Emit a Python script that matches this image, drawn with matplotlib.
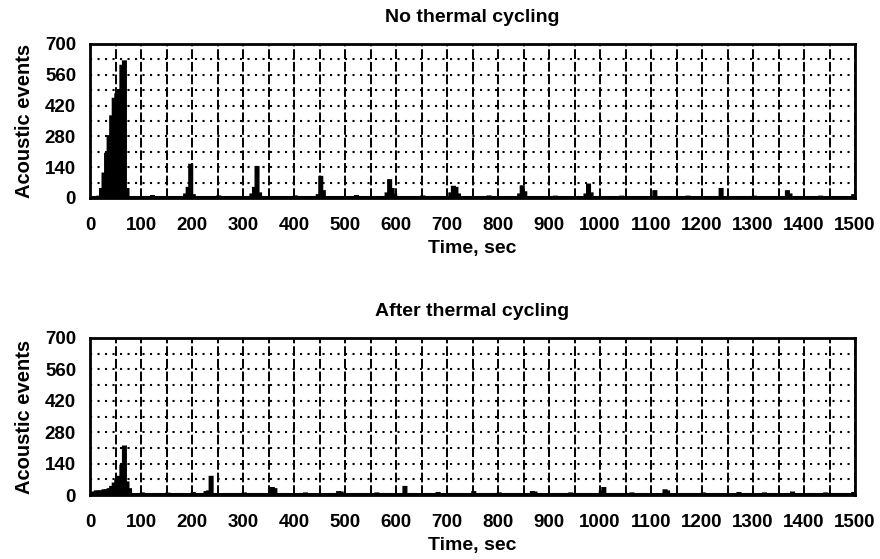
import matplotlib
matplotlib.use("Agg")
import matplotlib.pyplot as plt
from matplotlib.ticker import MultipleLocator

plt.rcParams['font.family'] = ['Liberation Sans', 'DejaVu Sans']
plt.rcParams['font.weight'] = 'bold'

# 5-second bins (left edges) and event counts
top_times = [15, 20, 25, 30, 35, 40, 45, 50, 55, 60, 65, 70,
             120, 185, 190, 195, 200, 250, 315, 320, 325, 330, 400,
             445, 450, 455, 520, 580, 585, 590, 595, 650,
             705, 710, 715, 720, 780, 840, 845, 850, 910,
             970, 975, 980, 1040, 1105, 1170, 1235, 1300, 1365, 1370, 1430, 1495]
top_counts = [5, 40, 110, 200, 280, 370, 450, 470, 490, 600, 620, 40,
              8, 15, 45, 150, 12, 6, 15, 45, 140, 20, 6,
              12, 95, 30, 8, 20, 80, 40, 15, 6,
              20, 50, 45, 15, 6, 15, 52, 25, 5,
              15, 60, 20, 5, 30, 5, 40, 5, 30, 15, 5, 12]

bot_times = [0, 5, 10, 15, 20, 25, 30, 35, 40, 45, 50, 55, 60, 65, 70, 75,
             100, 150, 200, 225, 230, 235, 300, 355, 360, 420, 485, 490,
             560, 615, 680, 750, 800, 865, 870, 940, 1000, 1005, 1060,
             1125, 1130, 1200, 1270, 1320, 1375, 1440, 1495]
bot_counts = [8, 10, 15, 15, 15, 20, 20, 25, 35, 50, 65, 80, 130, 215, 55, 25,
              6, 5, 8, 12, 15, 80, 6, 30, 25, 6, 12, 10,
              6, 35, 8, 12, 6, 12, 10, 6, 15, 30, 6,
              20, 15, 6, 8, 6, 10, 6, 8]

titles = ["No thermal cycling", "After thermal cycling"]
xlabel = "Time, sec"
ylabel = "Acoustic events"
xticks = list(range(0, 1501, 100))
yticks = list(range(0, 701, 140))

fig = plt.figure(figsize=(8.8, 5.59), dpi=100)
L, W = 90/880, 765/880
ax1 = fig.add_axes([L, 1-198/559, W, 154/559])
ax2 = fig.add_axes([L, 1-495/559, W, 157/559])

for ax, t, c, title in [(ax1, top_times, top_counts, titles[0]),
                        (ax2, bot_times, bot_counts, titles[1])]:
    ax.set_xlim(0, 1500)
    ax.set_ylim(0, 700)
    ax.xaxis.set_major_locator(MultipleLocator(100))
    ax.xaxis.set_minor_locator(MultipleLocator(50))
    ax.yaxis.set_major_locator(MultipleLocator(140))
    ax.yaxis.set_minor_locator(MultipleLocator(70))
    ax.grid(True, axis='x', which='both', color='black', linestyle=(0, (5, 1.5)), linewidth=1.4)
    ax.grid(True, axis='y', which='both', color='black', linestyle=(0, (1, 2.6)), linewidth=1.5)
    ax.set_axisbelow(True)
    ax.bar(t, c, width=5, align='edge', color='black', edgecolor='black',
           linewidth=1.8, snap=False, zorder=3)
    ax.plot([0, 1500], [3, 3], color='black', linewidth=2.2, zorder=3)
    for s in ax.spines.values():
        s.set_linewidth(2.0)
        s.set_color('black')
        s.set_zorder(4)
    ax.tick_params(which='both', length=0, labelsize=13.5)
    ax.tick_params(axis='x', pad=14)
    ax.tick_params(axis='y', pad=10)
    ax.set_xticks(xticks)
    ax.set_yticks(yticks)
    for lab in ax.get_xticklabels() + ax.get_yticklabels():
        lab.set_fontweight('bold')
    ax.set_title(title, fontsize=14, fontweight='bold', pad=16)
    ax.set_xlabel(xlabel, fontsize=14, fontweight='bold', labelpad=4)
    ax.set_ylabel(ylabel, fontsize=14.5, fontweight='bold', labelpad=8)

fig.savefig("out.png", dpi=100)
